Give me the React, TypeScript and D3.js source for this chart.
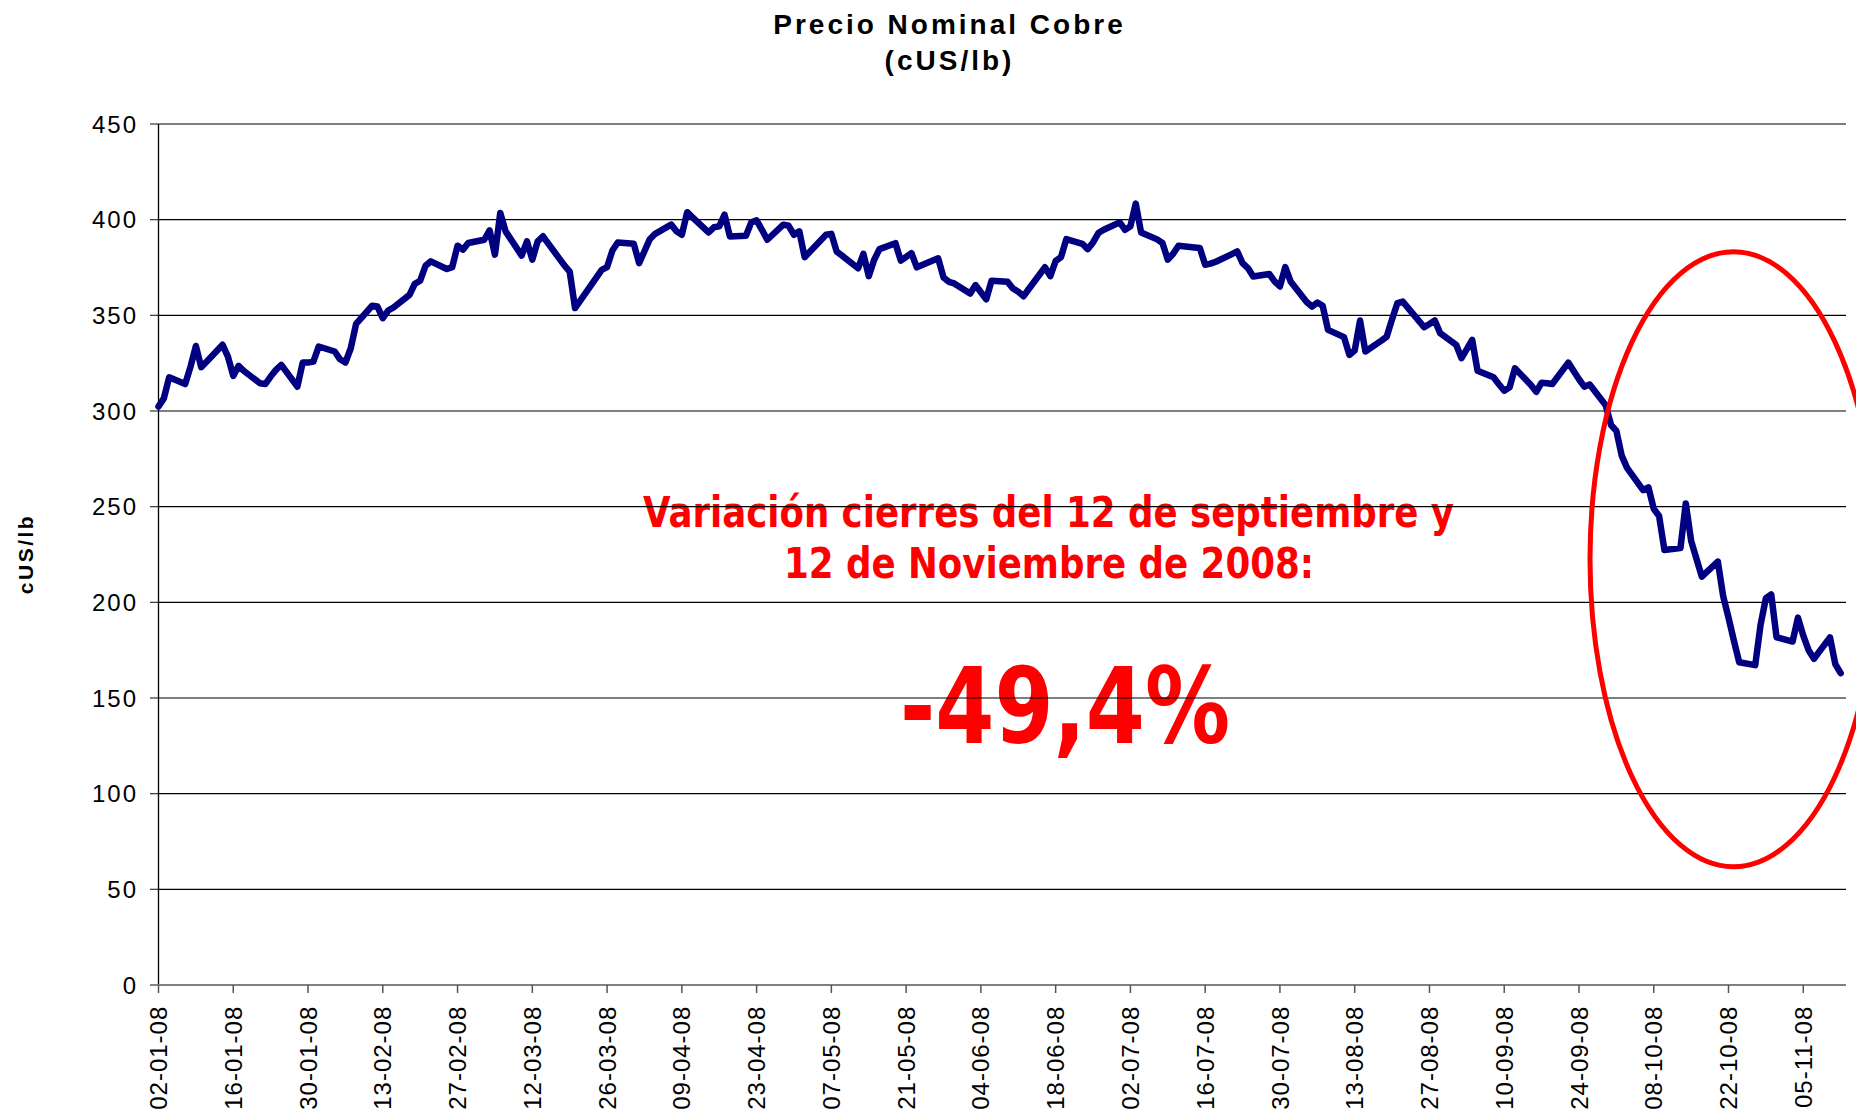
import React from "react";
import * as d3 from "d3";

// Precio nominal del cobre 2008, cierres diarios (cUS/lb), leídos del gráfico
// días hábiles por mes (ene..nov)
const diasHabiles = [
  [2, 3, 4, 7, 8, 9, 10, 11, 14, 15, 16, 17, 18, 21, 22, 23, 24, 25, 28, 29, 30, 31],
  [1, 4, 5, 6, 7, 8, 11, 12, 13, 14, 15, 18, 19, 20, 21, 22, 25, 26, 27, 28, 29],
  [3, 4, 5, 6, 7, 10, 11, 12, 13, 14, 17, 18, 19, 20, 25, 26, 27, 28, 31],
  [1, 2, 3, 4, 7, 8, 9, 10, 11, 14, 15, 16, 17, 18, 21, 22, 23, 24, 25, 28, 29, 30],
  [1, 2, 6, 7, 8, 9, 12, 13, 14, 15, 16, 19, 20, 21, 22, 23, 27, 28, 29, 30],
  [2, 3, 4, 5, 6, 9, 10, 11, 12, 13, 16, 17, 18, 19, 20, 23, 24, 25, 26, 27, 30],
  [1, 2, 3, 4, 7, 8, 9, 10, 11, 14, 15, 16, 17, 18, 21, 22, 23, 24, 25, 28, 29, 30, 31],
  [1, 4, 5, 6, 7, 8, 11, 12, 13, 14, 15, 18, 19, 20, 21, 22, 26, 27, 28, 29],
  [1, 2, 3, 4, 5, 8, 9, 10, 11, 12, 15, 16, 17, 18, 19, 22, 23, 24, 25, 26, 29, 30],
  [1, 2, 3, 6, 7, 8, 9, 10, 13, 14, 15, 16, 17, 20, 21, 22, 23, 24, 27, 28, 29, 30, 31],
  [3, 4, 5, 6, 7, 10, 11, 12],
];

const precios = [
  // ene
  302.3, 306.6, 317.6, 314.1, 323.2, 334.0, 322.9, 325.7, 334.6, 328.4, 318.3,
  323.6, 320.9, 314.5, 314.1, 318.0, 321.5, 324.1, 312.7, 325.3, 325.3, 325.8,
  // feb
  333.7, 331.1, 327.0, 325.3, 332.8, 345.5, 355.0, 354.6, 348.5, 352.5, 354.1,
  360.7, 366.5, 368.1, 375.9, 378.2, 374.2, 375.2, 386.4, 384.3, 387.8,
  // mar
  389.5, 394.4, 381.7, 403.5, 393.9, 381.2, 388.7, 379.1, 388.7, 391.3, 379.9,
  376.1, 372.9, 353.8, 373.8, 375.2, 383.9, 388.1, 387.4,
  // abr
  377.3, 383.5, 389.8, 392.6, 397.4, 393.9, 392.1, 403.9, 401.2, 393.3, 396.0,
  396.5, 402.6, 391.2, 391.6, 398.6, 399.6, 394.7, 389.5, 397.4, 396.8, 392.1,
  // may
  393.9, 380.4, 392.1, 392.6, 383.3, 381.2, 374.6, 382.1, 370.5, 378.9, 384.6,
  387.7, 378.6, 380.5, 382.5, 375.1, 379.8, 369.8, 367.5, 366.7,
  // jun
  361.4, 365.8, 362.1, 358.4, 368.1, 367.5, 364.0, 362.3, 360.0, 363.9, 375.1,
  370.5, 378.4, 380.4, 389.8, 387.4, 384.6, 388.1, 393.0, 394.7, 398.6,
  // jul
  394.7, 396.5, 408.4, 393.3, 389.7, 387.8, 379.1, 382.2, 386.4, 385.5, 385.2,
  376.4, 377.0, 378.0, 382.0, 383.4, 377.3, 374.7, 370.3, 371.6, 367.7, 365.1, 375.2,
  // ago
  367.7, 357.0, 354.6, 356.7, 355.0, 342.4, 338.6, 329.3, 331.6, 347.3, 331.1,
  336.8, 338.9, 348.0, 356.4, 357.2, 343.8, 345.5, 347.3, 340.7,
  // sep
  334.6, 327.6, 332.3, 337.2, 321.1, 317.6, 314.0, 310.6, 312.4, 322.3, 313.6,
  310.0, 314.8, 314.5, 314.1, 325.3, 320.9, 316.6, 312.7, 313.8, 303.0, 292.7,
  // oct
  289.6, 276.7, 270.3, 258.6, 260.1, 248.9, 245.1, 227.4, 228.4, 251.7, 232.1,
  222.8, 213.4, 221.3, 203.2, 192.0, 180.0, 168.7, 167.2, 188.2, 202.2, 204.1, 181.7,
  // nov
  179.5, 192.0, 182.6, 175.0, 170.5, 181.7, 167.7, 163.0,
];

const etiquetasX = [
  "02-01-08", "16-01-08", "30-01-08", "13-02-08", "27-02-08", "12-03-08",
  "26-03-08", "09-04-08", "23-04-08", "07-05-08", "21-05-08", "04-06-08",
  "18-06-08", "02-07-08", "16-07-08", "30-07-08", "13-08-08", "27-08-08",
  "10-09-08", "24-09-08", "08-10-08", "22-10-08", "05-11-08",
];

const ticksY = [0, 50, 100, 150, 200, 250, 300, 350, 400, 450];

const W = 1856;
const H = 1109;
const arial = "'Liberation Sans', Arial, sans-serif";
const tahoma = "'DejaVu Sans Condensed', 'DejaVu Sans', sans-serif";

export default function App() {
  const parse = d3.utcParse("%d-%m-%y");
  const fechas = diasHabiles.flatMap((ds, m) => ds.map((d) => new Date(Date.UTC(2008, m, d))));
  const data = fechas.map((f, i) => ({ f, v: precios[i] }));

  const x = d3
    .scaleUtc()
    .domain([new Date(Date.UTC(2008, 0, 2)), new Date(Date.UTC(2008, 10, 13))])
    .range([158.5, 1846]);
  const y = d3.scaleLinear().domain([0, 450]).range([985, 124]);

  const linea = d3
    .line<{ f: Date; v: number }>()
    .x((d) => x(d.f))
    .y((d) => y(d.v));

  return (
    <svg
      width={W}
      height={H}
      style={{ position: "absolute", left: 0, top: 0, display: "block", background: "#fff" }}
    >
      {/* títulos */}
      <text x={949.5} y={33.5} textAnchor="middle" fontFamily={arial} fontWeight="bold" fontSize={28} letterSpacing={3}>
        Precio Nominal Cobre
      </text>
      <text x={949.5} y={70} textAnchor="middle" fontFamily={arial} fontWeight="bold" fontSize={28} letterSpacing={3}>
        (cUS/lb)
      </text>
      <text
        transform="translate(33.3,554) rotate(-90)"
        textAnchor="middle"
        fontFamily={arial}
        fontWeight="bold"
        fontSize={21}
        letterSpacing={2.5}
      >
        cUS/lb
      </text>

      {/* anotación (queda debajo de la grilla) */}
      <g fill="#FF0000" fontFamily={tahoma} fontWeight="bold" style={{ fontStretch: "condensed" }}>
        <text x={643} y={526.7} fontSize={43} textLength={811} lengthAdjust="spacingAndGlyphs">
          Variación cierres del 12 de septiembre y
        </text>
        <text x={784} y={578.3} fontSize={43} textLength={530} lengthAdjust="spacingAndGlyphs">
          12 de Noviembre de 2008:
        </text>
        <text x={900} y={742.7} fontSize={106} textLength={330} lengthAdjust="spacingAndGlyphs">
          -49,4%
        </text>
      </g>

      {/* grilla y eje Y */}
      {ticksY.map((t) => (
        <g key={t}>
          {t > 0 && <line x1={158.5} x2={1846} y1={y(t)} y2={y(t)} stroke="#000" strokeWidth={1.1} />}
          <line x1={150} x2={158.5} y1={y(t)} y2={y(t)} stroke="#444" strokeWidth={1.3} />
          <text
            x={138}
            y={y(t) + 8.6}
            textAnchor="end"
            fontFamily={arial}
            fontSize={24}
            letterSpacing={2}
          >
            {t}
          </text>
        </g>
      ))}
      <line x1={158.5} x2={158.5} y1={124} y2={985} stroke="#000" strokeWidth={1.3} />

      {/* eje X */}
      <line x1={157.5} x2={1846} y1={985} y2={985} stroke="#808080" strokeWidth={2.2} />
      {etiquetasX.map((e) => {
        const px = x(parse(e) as Date);
        return (
          <g key={e}>
            <line x1={px} x2={px} y1={985} y2={993} stroke="#555" strokeWidth={1.5} />
            <text
              transform={`translate(${px},1005.7) rotate(-90)`}
              y={8.6}
              textAnchor="end"
              fontFamily={arial}
              fontSize={24}
              letterSpacing={1}
            >
              {e}
            </text>
          </g>
        );
      })}

      {/* serie */}
      <path
        d={linea(data) ?? ""}
        fill="none"
        stroke="#000080"
        strokeWidth={6.5}
        strokeLinejoin="round"
        strokeLinecap="round"
      />

      {/* elipse roja */}
      <ellipse cx={1733.5} cy={559.3} rx={143.5} ry={307.5} fill="none" stroke="#FF0000" strokeWidth={5} />
    </svg>
  );
}
